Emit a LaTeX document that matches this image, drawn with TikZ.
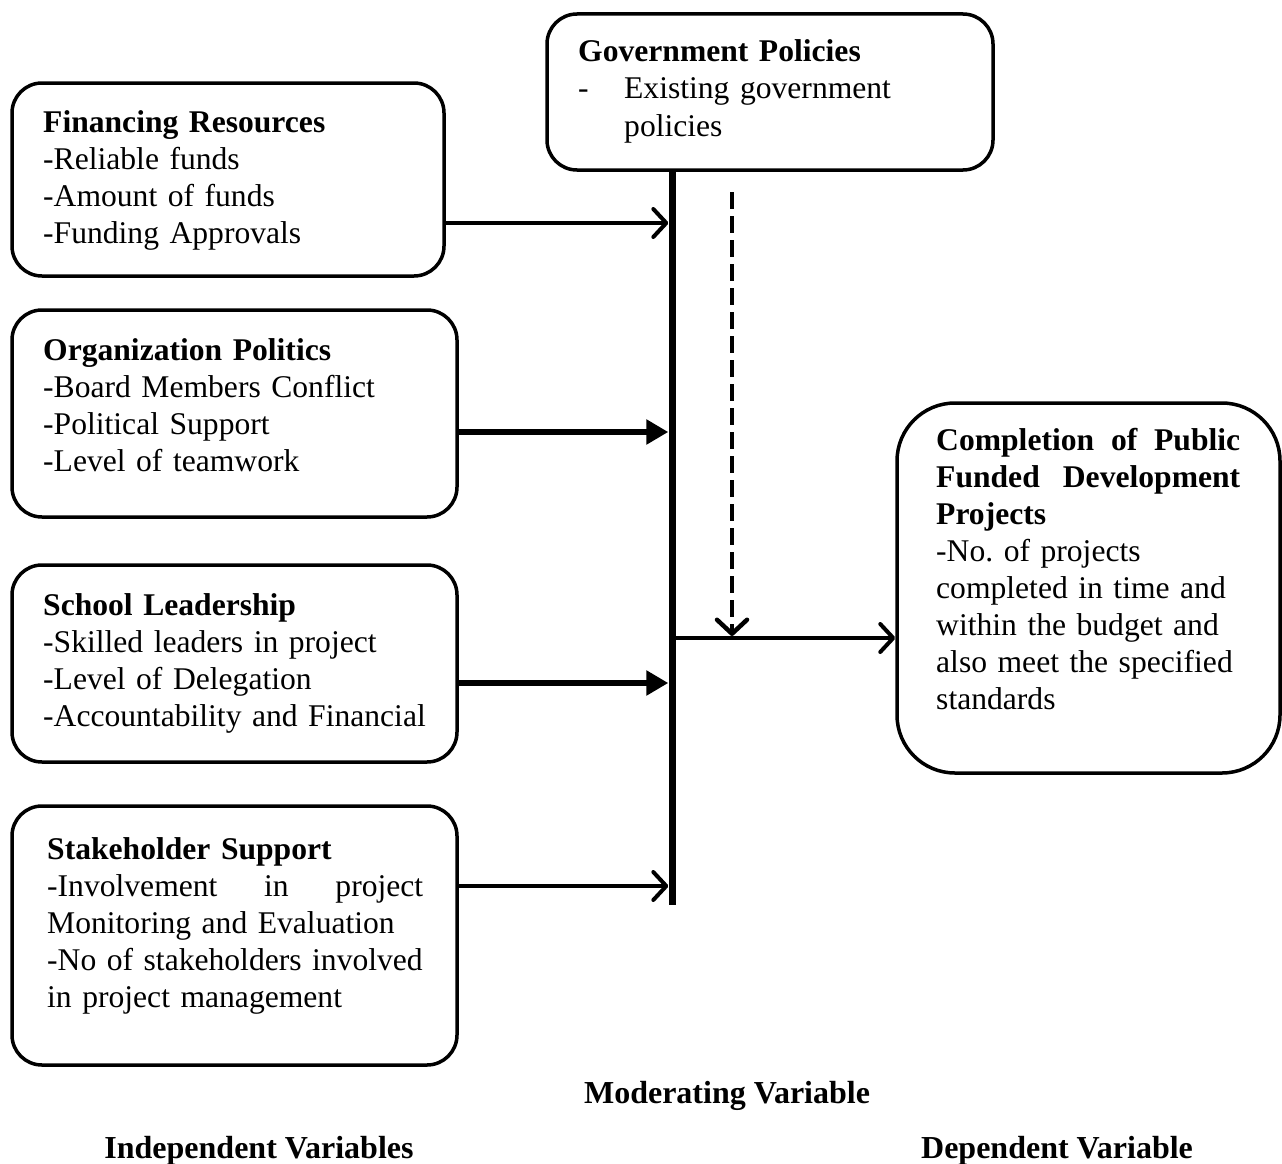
\documentclass[tikz,border=0pt]{standalone}
\usepackage{fontspec}
\setmainfont{Liberation Serif}
\usetikzlibrary{arrows.meta}
\hyphenpenalty=10000
\exhyphenpenalty=10000
\frenchspacing
% a line set out to a full given width; words are separated by \hfill
\newcommand{\fullline}[2]{\makebox[#1][l]{#2}}
\begin{document}
\begin{tikzpicture}[x=1pt,y=-1pt,
  box/.style={draw, line width=3.5pt, rounded corners=30pt, inner sep=0pt},
  txt/.style={anchor=base west, inner sep=0pt, text width=#1, align=left,
    font=\fontsize{31.6}{37}\selectfont},
  lbl/.style={anchor=base, inner sep=0pt, font=\fontsize{32}{37}\selectfont\bfseries},
  thin/.style={line width=4pt, -{Straight Barb[length=13pt,width=28pt,round]}},
  thick/.style={line width=6pt, -{Triangle[length=22pt,width=24pt]}},
  modarrow/.style={line width=4.5pt, dash pattern=on 17pt off 7pt,
    -{Straight Barb[length=14pt,width=30pt,round]}}]
\useasboundingbox (0,0) rectangle (1282,1164);

% boxes
\node[box, minimum width=446pt, minimum height=156pt] (gov) at (770,92) {};
\node[box, minimum width=432pt, minimum height=193pt] (fin) at (228,179.5) {};
\node[box, minimum width=445pt, minimum height=207pt] (org) at (234.5,413.5) {};
\node[box, minimum width=445pt, minimum height=197pt] (sch) at (234.5,663.5) {};
\node[box, minimum width=445pt, minimum height=259pt] (stk) at (234.5,935.5) {};
\node[box, rounded corners=58pt, minimum width=383pt, minimum height=370pt] (comp) at (1088.5,588) {};

% box contents
\node[txt=420pt] (govt) at (578,62)
  {\textbf{Government Policies}\\ \makebox[46pt][l]{-}Existing government\\ \hspace*{46pt}policies};
\node[txt=400pt] (fint) at (43,132)
  {\textbf{Financing Resources}\\ -Reliable funds\\ -Amount of funds\\ -Funding Approvals};
\node[txt=410pt] (orgt) at (43,360)
  {\textbf{Organization Politics}\\ -Board Members Conflict\\ -Political Support\\ -Level of teamwork};
\node[txt=410pt] (scht) at (43,615)
  {\textbf{School Leadership}\\ -Skilled leaders in project\\ -Level of Delegation\\ -Accountability and Financial};
\node[txt=400pt] (stkt) at (47,859)
  {\textbf{Stakeholder Support}\\ \fullline{376pt}{-Involvement\hfill in\hfill project}\\ Monitoring and Evaluation\\ -No of stakeholders involved\\ in project management};
\node[txt=330pt] (compt) at (936,450)
  {\textbf{\fullline{304pt}{Completion\hfill of\hfill Public}}\\ \textbf{\fullline{304pt}{Funded\hfill Development}}\\ \textbf{Projects}\\ -No. of projects\\ completed in time and\\ within the budget and\\ also meet the specified\\ standards};

% central bar carrying the independent variables
\node[fill=black, inner sep=0pt, minimum width=7pt, minimum height=735pt] (bar) at (672,537.5) {};

% independent -> bar
\draw[thin]  (fin.east |- 0,223) -- (bar.west |- 0,223);
\draw[thick] (org.east |- 0,432) -- (bar.west |- 0,432);
\draw[thick] (sch.east |- 0,683) -- (bar.west |- 0,683);
\draw[thin]  (stk.east |- 0,886) -- (bar.west |- 0,886);

% bar -> dependent
\draw[thin] (bar.east |- 0,638) -- (comp.west |- 0,638);

% moderating influence
\coordinate (modtop) at (732,192);
\coordinate (modend) at (732,636);
\draw[modarrow] (modtop) -- (modend);

% captions
\node[lbl] (modl) at (727,1103) {Moderating Variable};
\node[lbl] (indl) at (259,1158) {Independent Variables};
\node[lbl] (depl) at (1057,1158) {Dependent Variable};
\end{tikzpicture}
\end{document}
